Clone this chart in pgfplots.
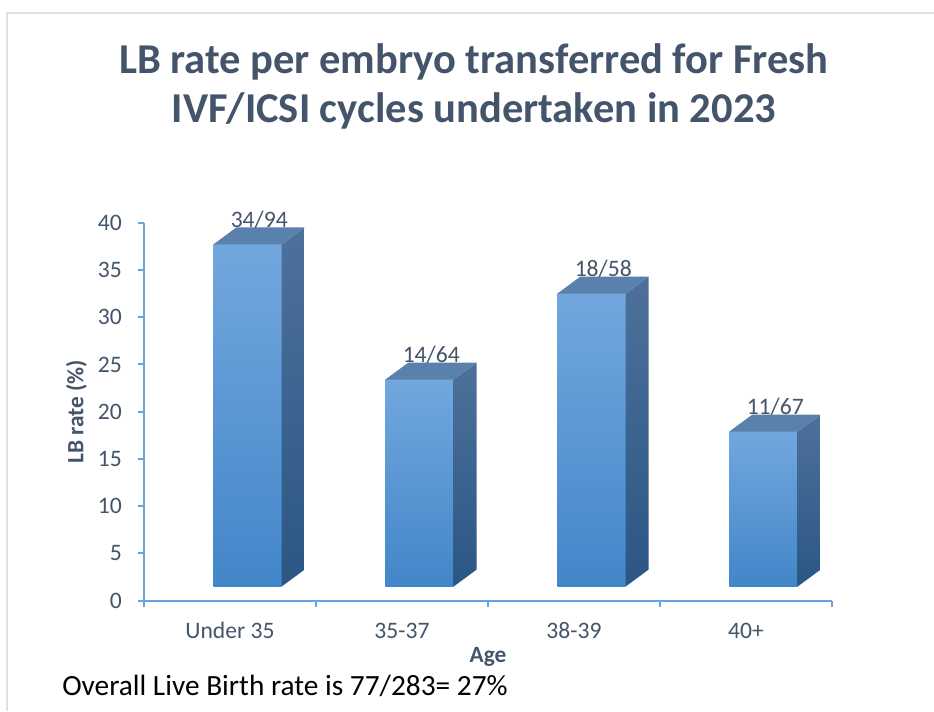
\documentclass[border=0pt]{standalone}
\usepackage{pgfplots}
\pgfplotsset{compat=1.18}
\usepackage{fontspec}
\setmainfont{Carlito}
\definecolor{titlec}{HTML}{44546A}
\definecolor{axisc}{HTML}{6AA3DB}
\definecolor{frontT}{HTML}{72A7DE}
\definecolor{frontB}{HTML}{4286C9}
\definecolor{sideT}{HTML}{4D719B}
\definecolor{sideB}{HTML}{2B5684}
\definecolor{topc}{HTML}{5A80AC}
\definecolor{framec}{HTML}{DDE1E7}
\begin{document}
\begin{tikzpicture}
\useasboundingbox (0,0) rectangle (700.5pt,533.25pt);
\draw[framec, line width=1.5pt] (5.25pt,0) -- (5.25pt,523.5pt) -- (700.5pt,523.5pt);
\node[anchor=base, inner sep=0pt, text=titlec, font=\fontsize{31.9}{38}\selectfont\bfseries] at (355.5pt,478.3pt) {LB rate per embryo transferred for Fresh};
\node[anchor=base, inner sep=0pt, text=titlec, font=\fontsize{31.9}{38}\selectfont\bfseries] at (355.5pt,441pt) {IVF/ICSI cycles undertaken in 2023};
\node[anchor=base west, inner sep=0pt, font=\fontsize{22}{26}\selectfont] at (46.5pt,12pt) {Overall Live Birth rate is 77/283= 27\%};
\begin{axis}[
  at={(108pt,82.7pt)}, anchor=south west,
  width=516pt, height=283.5pt, scale only axis,
  xmin=-0.5, xmax=3.5, ymin=0, ymax=40,
  enlargelimits=false, clip=false,
  axis lines*=left,
  axis line style={draw=axisc, line width=1.5pt},
  every tick/.style={draw=axisc, line width=1.5pt},
  tick align=outside,
  major tick length=4.5pt, minor tick length=4.5pt,
  xtick={0,1,2,3},
  xticklabels={Under 35,35-37,38-39,40+},
  minor xtick={-0.5,0.5,1.5,2.5,3.5},
  major x tick style={draw=none},
  ytick={0,5,...,40},
  /pgf/number format/assume math mode=true,
  tick label style={font=\fontsize{17.7}{21}\selectfont, text=titlec},
  xticklabel style={anchor=base, yshift=-24pt},
  yticklabel style={anchor=east, inner sep=0pt},
  yticklabel={\pgfmathprintnumber{\tick}\hspace*{12pt}},
  xlabel={Age},
  ylabel={LB rate (\%)},
  label style={font=\fontsize{17.5}{21}\selectfont\bfseries, text=titlec},
  xlabel style={at={(axis description cs:0.5,0)}, anchor=base, yshift=-46.5pt},
  ylabel style={at={(axis description cs:0,0.5)}, anchor=base, yshift=45.5pt},
]
% front faces
\addplot[draw=none, top color=frontT, bottom color=frontB] coordinates {(-0.097,1.5)(0.30,1.5)(0.30,37.7)(-0.097,37.7)(-0.097,1.5)};
\addplot[draw=none, top color=frontT, bottom color=frontB] coordinates {(0.903,1.5)(1.30,1.5)(1.30,23.4)(0.903,23.4)(0.903,1.5)};
\addplot[draw=none, top color=frontT, bottom color=frontB] coordinates {(1.903,1.5)(2.30,1.5)(2.30,32.5)(1.903,32.5)(1.903,1.5)};
\addplot[draw=none, top color=frontT, bottom color=frontB] coordinates {(2.903,1.5)(3.30,1.5)(3.30,17.9)(2.903,17.9)(2.903,1.5)};
% side faces
\addplot[draw=none, top color=sideT, bottom color=sideB] coordinates {(0.30,1.5)(0.434,3.3)(0.434,39.5)(0.30,37.7)(0.30,1.5)};
\addplot[draw=none, top color=sideT, bottom color=sideB] coordinates {(1.30,1.5)(1.434,3.3)(1.434,25.2)(1.30,23.4)(1.30,1.5)};
\addplot[draw=none, top color=sideT, bottom color=sideB] coordinates {(2.30,1.5)(2.434,3.3)(2.434,34.3)(2.30,32.5)(2.30,1.5)};
\addplot[draw=none, top color=sideT, bottom color=sideB] coordinates {(3.30,1.5)(3.434,3.3)(3.434,19.7)(3.30,17.9)(3.30,1.5)};
% top faces
\addplot[draw=none, fill=topc] coordinates {(-0.097,37.7)(0.30,37.7)(0.434,39.5)(0.037,39.5)(-0.097,37.7)};
\addplot[draw=none, fill=topc] coordinates {(0.903,23.4)(1.30,23.4)(1.434,25.2)(1.037,25.2)(0.903,23.4)};
\addplot[draw=none, fill=topc] coordinates {(1.903,32.5)(2.30,32.5)(2.434,34.3)(2.037,34.3)(1.903,32.5)};
\addplot[draw=none, fill=topc] coordinates {(2.903,17.9)(3.30,17.9)(3.434,19.7)(3.037,19.7)(2.903,17.9)};
% labels
\addplot[only marks, mark=none, nodes near coords, point meta=explicit symbolic,
  nodes near coords style={anchor=base, inner sep=0pt, font=\fontsize{17.7}{21}\selectfont, text=titlec}]
  coordinates {(0.17,39.5)[34/94] (1.17,25.2)[14/64] (2.17,34.3)[18/58] (3.17,19.7)[11/67]};
\end{axis}
\end{tikzpicture}
\end{document}
